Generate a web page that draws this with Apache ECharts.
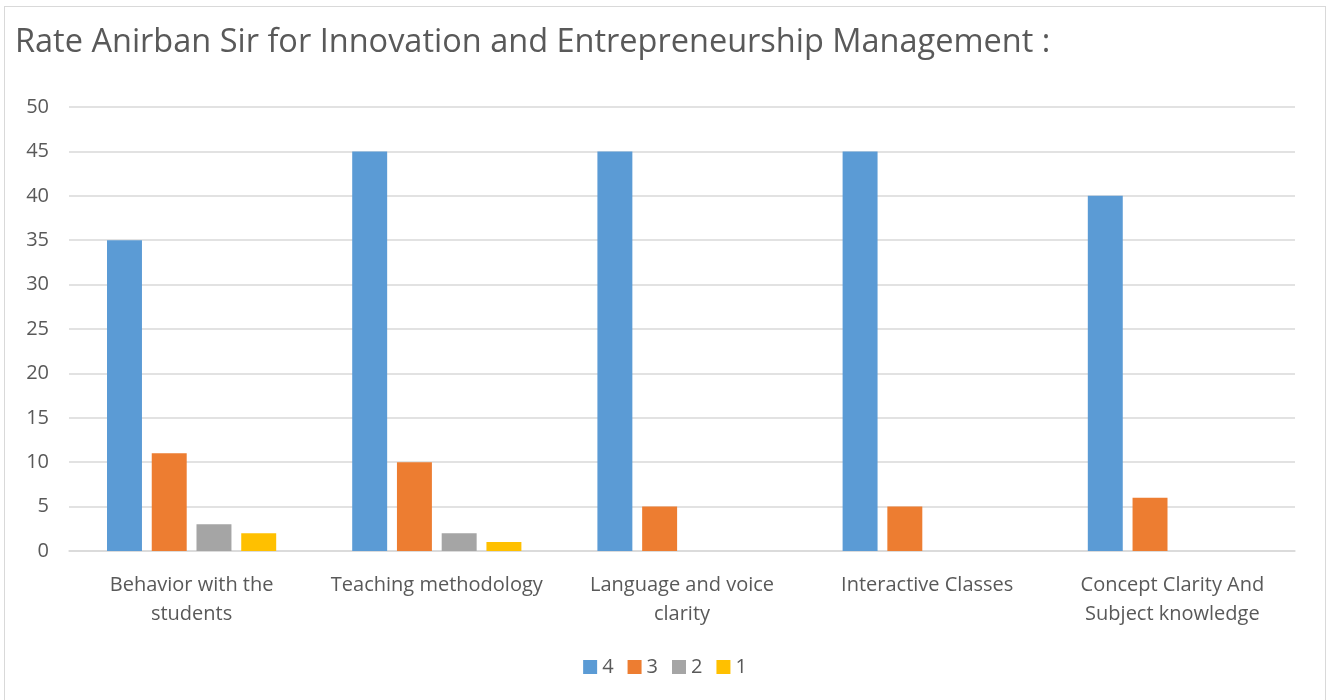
<!DOCTYPE html>
<html lang="en">

<head>
  <meta charset="utf-8">
  <title>Rate Anirban Sir</title>
  <style>
    * {
      margin: 0;
      padding: 0;
    }

    body {
      background: #fff;
    }

    #chart-container {
      position: absolute;
      left: 4px;
      top: 6px;
      width: 1322px;
      height: 700px;
      border: 1px solid #d9d9d9;
      box-sizing: border-box;
    }
  </style>
</head>

<body>
  <div id="chart-container"></div>
  <script src="https://fastly.jsdelivr.net/npm/echarts@6/dist/echarts.min.js"></script>
  <script>
    var dom = document.getElementById('chart-container');
    var myChart = echarts.init(dom, null, { renderer: 'canvas' });

    const categories = [
      'Behavior with the\nstudents',
      'Teaching methodology',
      'Language and voice\nclarity',
      'Interactive Classes',
      'Concept Clarity And\nSubject knowledge'
    ];
    const seriesNames = ['4', '3', '2', '1'];
    const rating4 = [35, 45, 45, 45, 40];
    const rating3 = [11, 10, 5, 5, 6];
    const rating2 = [3, 2, 0, 0, 0];
    const rating1 = [2, 1, 0, 0, 0];
    const colors = ['#5B9BD5', '#ED7D31', '#A5A5A5', '#FFC000'];

    const textColor = '#595959';
    const fontFamily = 'Open Sans';

    var option = {
      color: colors,
      title: {
        text: 'Rate Anirban Sir for Innovation and Entrepreneurship Management :',
        left: 5,
        top: 14,
        textStyle: {
          fontFamily: fontFamily,
          fontWeight: 'normal',
          fontSize: 32.5,
          color: textColor
        }
      },
      legend: {
        top: 645,
        left: 'center',
        itemWidth: 14,
        itemHeight: 14,
        itemGap: 14,
        icon: 'rect',
        textStyle: { fontFamily: fontFamily, fontSize: 20, color: textColor }
      },
      grid: {
        left: 64,
        right: 30,
        top: 100,
        bottom: 154
      },
      xAxis: {
        type: 'category',
        data: categories,
        axisTick: { show: false },
        axisLine: { lineStyle: { color: '#d9d9d9', width: 1.5 } },
        axisLabel: {
          interval: 0,
          margin: 20,
          fontFamily: fontFamily,
          fontSize: 20,
          lineHeight: 29,
          color: textColor
        }
      },
      yAxis: {
        type: 'value',
        min: 0,
        max: 50,
        interval: 5,
        axisLabel: {
          margin: 20,
          fontFamily: fontFamily,
          fontSize: 20,
          color: textColor
        },
        splitLine: { lineStyle: { color: '#d9d9d9', width: 1.5 } }
      },
      series: [
        { name: seriesNames[0], type: 'bar', data: rating4, barGap: '28%', barCategoryGap: '31%' },
        { name: seriesNames[1], type: 'bar', data: rating3 },
        { name: seriesNames[2], type: 'bar', data: rating2 },
        { name: seriesNames[3], type: 'bar', data: rating1 }
      ]
    };

    myChart.setOption(option);
    window.addEventListener('resize', myChart.resize);
  </script>
</body>

</html>
